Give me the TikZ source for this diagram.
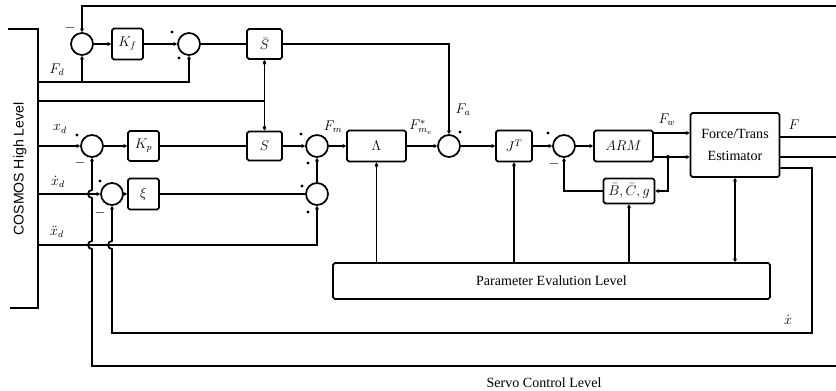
\documentclass[tikz,border=0pt]{standalone}
\usepackage{fontspec}
\setmainfont{Liberation Serif}
\setsansfont{Liberation Sans}
\usetikzlibrary{arrows.meta,calc}
\newcommand\pu{*0.03cm}
\begin{document}
\begin{tikzpicture}[x=0.03cm,y=-0.03cm, line width=1.5pt,
 blk/.style={draw, rounded corners=1.5pt, inner sep=0pt, font=\large},
 sumj/.style={draw, circle, minimum size=22\pu, inner sep=0pt},
 sig/.style={-{Diamond[length=5pt,width=3pt]}},
 both/.style={{Diamond[length=5pt,width=3pt]}-{Diamond[length=5pt,width=3pt]}},
 lbl/.style={font=\large},
 sgn/.style={font=\large, inner sep=0pt}
]
\useasboundingbox (0,0) rectangle (836,391);
% blocks
\node[sumj] (s1) at (82,44) {};
\node[blk, minimum width=31\pu, minimum height=31\pu] (kf) at (127.5,44) {$K_f$};
\node[sumj] (s2) at (189,44) {};
\node[blk, minimum width=35\pu, minimum height=30\pu] (sb) at (264.5,44) {$\bar S$};
\node[sumj] (s3) at (92,146) {};
\node[blk, minimum width=31\pu, minimum height=30\pu] (kp) at (143.5,146) {$K_p$};
\node[blk, minimum width=35\pu, minimum height=29\pu] (S) at (264.5,146) {$S$};
\node[sumj] (s4) at (317,146) {};
\node[blk, minimum width=59\pu, minimum height=31\pu] (lam) at (376.5,146) {$\Lambda$};
\node[sumj] (sa) at (449,146) {};
\node[blk, minimum width=36\pu, minimum height=31\pu] (jt) at (514,146) {$J^T$};
\node[sumj] (s5) at (564,146) {};
\node[blk, minimum width=59\pu, minimum height=31\pu] (arm) at (623.5,146) {$ARM$};
\node[blk, minimum width=51\pu, minimum height=25\pu] (bcg) at (629,191) {$\bar B,\bar C,g$};
\node[blk, minimum width=89\pu, minimum height=64\pu, align=center] (est) at (735,145) {Force/Trans\\[5pt]Estimator};
\node[sumj] (sx) at (112,194) {};
\node[blk, minimum width=31\pu, minimum height=31\pu] (xi) at (143.5,194) {$\xi$};
\node[sumj] (s6) at (317,194) {};
\node[blk, minimum width=437\pu, minimum height=36\pu] (par) at (551.5,281) {Parameter Evalution Level};
% free ends
\coordinate (tR) at (836,6);
\coordinate (fd) at (38,82);
\coordinate (sl) at (38,101);
\coordinate (sj) at (264.5,101);
\coordinate (xd) at (38,146);
\coordinate (xdd) at (38,194);
\coordinate (xddd) at (38,245);
\coordinate (bR) at (836,366);
\coordinate (fR1) at (836,137);
\coordinate (fR2) at (836,157);
\coordinate (xb) at (812,333);
% bracket
\draw (8,29) -- (38,29) -- (38,308) -- (10,308);
\node[rotate=90, font=\sffamily\large] (cosmos) at (20,169) {COSMOS High Level};
\node[font=\large] (servo) at (544,383) {Servo Control Level};
% top loop
\draw[sig] (tR) -| (s1.north);
\draw[sig] (fd) -| (s2.south);
\draw[sig] (s1.south |- fd) -- (s1.south);
\draw[sig] (s1) -- (kf);
\draw[sig] (kf) -- (s2);
\draw (s2) -- (sb);
\draw[sig] (sb.east) -| (sa.north);
\draw (sl) -- (sj);
\draw[sig] (sj) -- (sb.south);
\draw[sig] (sj) -- (S.north);
% middle row
\draw[sig] (xd) -- (s3);
\draw[sig] (s3) -- (kp);
\draw (kp) -- (S);
\draw[sig] (S) -- (s4);
\draw[sig] (s4) -- (lam);
\draw[sig] (lam) -- (sa);
\draw[sig] (sa) -- (jt);
\draw[sig] (jt) -- (s5);
\draw[sig] (s5) -- (arm);
\draw[sig] ($(arm.east)+(0,-13)$) -- ($(est.west)+(0,-12)$);
\draw[sig] ($(arm.east)+(0,11)$) -- ($(est.west)+(0,12)$);
\coordinate (aj) at ($(arm.east)+(14,11)$);
\fill (aj) circle[radius=2];
\draw[sig] (aj) |- (bcg.east);
\draw[sig] (bcg.west) -| (s5.south);
% estimator outputs
\draw ($(est.east)+(0,-8)$) -- (fR1);
\draw ($(est.east)+(0,12)$) -- (fR2);
\draw[sig] ($(est.east)+(0,23)$) -| (xb) -- (sx.south |- xb)
  -- ($(sx.south |- xddd)+(0,4)$) arc[start angle=90,end angle=270,radius=4]
  -- (sx.south);
\draw[sig] (bR) -- (s3.south |- bR)
  -- ($(s3.south |- xddd)+(0,4)$) arc[start angle=90,end angle=270,radius=4]
  -- ($(s3.south |- xdd)+(0,4)$) arc[start angle=90,end angle=270,radius=4]
  -- (s3.south);
% xi row
\draw[sig] (xdd) -- (sx);
\draw[sig] (sx) -- (xi);
\draw (xi) -- (s6);
\draw[sig] (s6) -- (s4);
\draw[sig] (xddd) -| (s6.south);
% parameter level
\draw[sig] (lam.south |- par.north) -- (lam.south);
\draw[sig] (jt.south |- par.north) -- (jt.south);
\draw[sig] (bcg.south |- par.north) -- (bcg.south);
\draw[both] (est.south) -- (est.south |- par.north);
% signs
\node[sgn] at (70,28) {$-$};
\node[sgn] at (80,163) {$-$};
\node[sgn] at (100,213) {$-$};
\node[sgn] at (554,164) {$-$};
\foreach \p in {(172,32),(179,58),(77,135),(301,134),(308,163),(302,186),(308,212),(460,132),(548,133),(100,181)}
  \fill \p circle[radius=1.6];
% signal labels
\node[lbl] at (57,70) {$F_d$};
\node[lbl] at (60,129) {$x_d$};
\node[lbl] at (58,182) {$\dot x_d$};
\node[lbl] at (57,232) {$\ddot x_d$};
\node[lbl] at (333,127) {$F_m$};
\node[lbl] at (421,127) {$F^{*}_{m_e}$};
\node[lbl] at (463,110) {$F_a$};
\node[lbl] at (667,120) {$F_w$};
\node[lbl] at (794,125) {$F$};
\node[lbl] at (788,320) {$\dot x$};
\end{tikzpicture}
\end{document}
